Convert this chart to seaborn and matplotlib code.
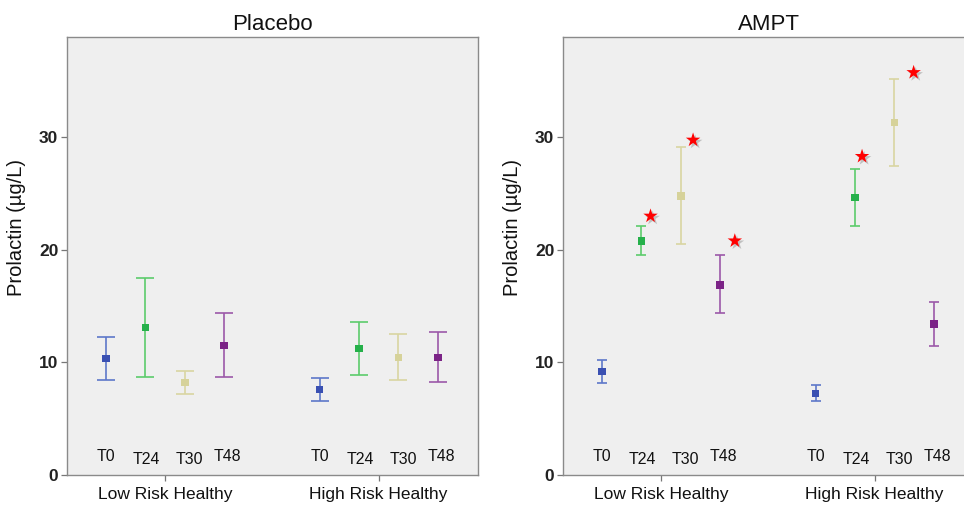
import numpy as np
import pandas as pd
import matplotlib
matplotlib.use("Agg")
import matplotlib.pyplot as plt
import matplotlib.patheffects as pe
import seaborn as sns

# ---------------- data ----------------
panels = ["Placebo", "AMPT"]
groups = ["Low Risk Healthy", "High Risk Healthy"]
times = ["T0", "T24", "T30", "T48"]

# order: Low T0, T24, T30, T48, High T0, T24, T30, T48
placebo_mean = [10.35, 13.1, 8.2, 11.5, 7.6, 11.25, 10.45, 10.45]
placebo_lo   = [8.4, 8.7, 7.2, 8.7, 6.6, 8.85, 8.4, 8.3]
placebo_hi   = [12.3, 17.5, 9.25, 14.4, 8.6, 13.55, 12.5, 12.7]

ampt_mean = [9.2, 20.8, 24.8, 16.9, 7.25, 24.65, 31.3, 13.4]
ampt_lo   = [8.15, 19.55, 20.5, 14.35, 6.55, 22.1, 27.4, 11.45]
ampt_hi   = [10.25, 22.1, 29.15, 19.5, 7.95, 27.2, 35.15, 15.35]

# significance stars in AMPT panel (index into the 8 points, y value)
star_idx = [1, 2, 3, 5, 6]
star_y   = [23.0, 29.75, 20.8, 28.3, 35.75]

yticks = [0, 10, 20, 30]

colors = {"T0": "#3a50b2", "T24": "#25b04a", "T30": "#d6d29a", "T48": "#7b2386"}
line_colors = {"T0": "#5d77c9", "T24": "#5ccb6c", "T30": "#d9d5a2", "T48": "#9b58a9"}

GROUP_GAP = 5.42  # distance between group centers, in units of point spacing

rows = []
for pname, means, los, his in [("Placebo", placebo_mean, placebo_lo, placebo_hi),
                                ("AMPT", ampt_mean, ampt_lo, ampt_hi)]:
    for gi, g in enumerate(groups):
        for ti, t in enumerate(times):
            k = gi * 4 + ti
            rows.append(dict(panel=pname, group=g, time=t,
                             x=gi * GROUP_GAP + ti,
                             mean=means[k], lo=los[k], hi=his[k]))
df = pd.DataFrame(rows)

# ---------------- style ----------------
sns.set_style("white", {"axes.facecolor": "#efefef",
                        "axes.edgecolor": "#8a8a8a"})
plt.rcParams["font.family"] = ["Liberation Sans", "DejaVu Sans"]

W, H = 964, 509
fig = plt.figure(figsize=(W / 100, H / 100), dpi=100)
fig.patch.set_facecolor("white")

ax_w = 411.6 / W
ax_h = (475 - 37) / H
ax_b = (H - 475) / H
axes = [fig.add_axes([66.7 / W, ax_b, ax_w, ax_h]),
        fig.add_axes([562.7 / W, ax_b, ax_w, ax_h])]

capsizes = {"Placebo": 6.8, "AMPT": 3.6}
label_dy = {"T0": 0.0, "T24": -0.2, "T30": -0.25, "T48": 0.0}
label_dx = {"T0": 0.0, "T24": 0.03, "T30": 0.12, "T48": 0.08}

for ax, pname in zip(axes, panels):
    d = df[df.panel == pname]
    for t in times:
        dt = d[d.time == t]
        ax.errorbar(dt.x, dt["mean"],
                    yerr=[dt["mean"] - dt.lo, dt.hi - dt["mean"]],
                    fmt="none", ecolor=line_colors[t], elinewidth=1.2,
                    capsize=capsizes[pname], capthick=1.2, zorder=2)
    sns.scatterplot(data=d, x="x", y="mean", hue="time", palette=colors,
                    marker="s", s=30, linewidth=0, legend=False, ax=ax, zorder=3)

    # time labels inside the axes
    for _, r in d.iterrows():
        ax.text(r.x + label_dx[r.time], 1.6 + label_dy[r.time], r.time,
                ha="center", va="center", fontsize=11.4, color="#111111")

    ax.set_xlim(-1, 3 + GROUP_GAP + 1.03)
    ax.set_ylim(0, 38.9)
    ax.set_yticks(yticks)
    ax.set_yticklabels([str(v) for v in yticks], fontweight="bold",
                       fontsize=12.5, color="#222222")
    ax.set_xticks([1.5, GROUP_GAP + 1.5])
    ax.set_xticklabels(groups, fontsize=12.5, color="#111111")
    ax.tick_params(axis="both", direction="out", length=4, width=0.9,
                   color="#777777", pad=2, bottom=True, left=True)
    ax.tick_params(axis="x", pad=5)
    ax.set_xlabel("")
    ax.set_ylabel("Prolactin (µg/L)", fontsize=14.5, color="#111111")
    ax.yaxis.set_label_coords(-0.10, 0.565)
    ax.set_title(pname, fontsize=16, color="#111111", pad=5)
    for s in ax.spines.values():
        s.set_visible(True)
        s.set_linewidth(1.0)
        s.set_color("#8a8a8a")

# significance stars
ax = axes[1]
d = df[df.panel == "AMPT"].reset_index(drop=True)
star_dx = [0.23, 0.31, 0.37, 0.18, 0.49]
sx = [d.x[i] + dx for i, dx in zip(star_idx, star_dx)]
sc = ax.scatter(sx, star_y, marker="*", s=120, color="#ff0000",
                linewidths=0, zorder=4)
sc.set_path_effects([pe.SimplePatchShadow(offset=(1.5, -1.5), alpha=0.3,
                                          shadow_rgbFace="#555555"),
                     pe.Normal()])

fig.savefig("out.png", dpi=100, facecolor="white")
